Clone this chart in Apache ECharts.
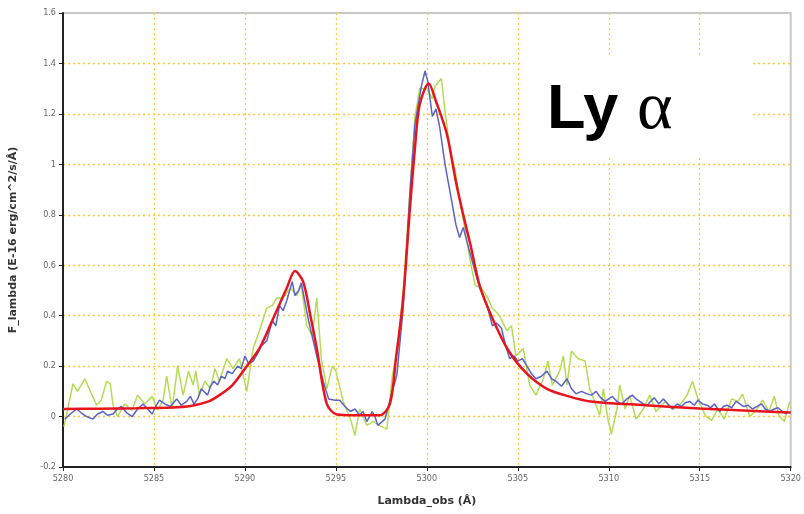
<!DOCTYPE html>
<html>
<head>
<meta charset="utf-8">
<script src="https://cdn.jsdelivr.net/npm/echarts@6/dist/echarts.min.js"></script>
<style>
  html, body { margin: 0; padding: 0; background: #fff; }
  #chart { width: 804px; height: 514px; }
</style>
</head>
<body>
<div id="chart"></div>
<script>
// wavelength (Å), flux (E-16 erg/cm^2/s/Å)
const obsGreen = [
  [5280.05, -0.04], [5280.3, 0.045], [5280.55, 0.13], [5280.8, 0.1], [5281.2, 0.15],
  [5281.6, 0.085], [5281.85, 0.045], [5282.1, 0.065], [5282.4, 0.14], [5282.6, 0.13],
  [5282.75, 0.045], [5283, 0.0], [5283.4, 0.05], [5283.8, 0.025], [5284.1, 0.085],
  [5284.5, 0.05], [5284.9, 0.08], [5285.2, 0.025], [5285.5, 0.065], [5285.7, 0.16],
  [5286, 0.03], [5286.3, 0.2], [5286.6, 0.085], [5286.9, 0.18], [5287.15, 0.125],
  [5287.3, 0.18], [5287.5, 0.085], [5287.8, 0.14], [5288.1, 0.11], [5288.35, 0.19],
  [5288.6, 0.14], [5289, 0.23], [5289.35, 0.19], [5289.7, 0.23], [5290.1, 0.1],
  [5290.45, 0.27], [5290.8, 0.34], [5291.2, 0.43], [5291.5, 0.44], [5291.75, 0.47],
  [5292.1, 0.47], [5292.5, 0.51], [5292.85, 0.48], [5293.1, 0.52], [5293.4, 0.36],
  [5293.7, 0.32], [5293.95, 0.47], [5294.2, 0.23], [5294.5, 0.11], [5294.8, 0.2],
  [5295, 0.18], [5295.4, 0.06], [5295.8, -0.01], [5296.05, -0.075], [5296.3, 0.03],
  [5296.7, -0.035], [5297.05, -0.02], [5297.4, -0.035], [5297.8, -0.05], [5298.1, 0.16],
  [5298.4, 0.27], [5298.7, 0.5], [5299.07, 0.89], [5299.35, 1.19], [5299.6, 1.3],
  [5300, 1.3], [5300.3, 1.26], [5300.45, 1.31], [5300.8, 1.34], [5301, 1.21],
  [5301.3, 1.04], [5301.55, 0.98], [5301.8, 0.86], [5302.1, 0.74], [5302.35, 0.63],
  [5302.65, 0.52], [5303, 0.51], [5303.35, 0.47], [5303.6, 0.43], [5304, 0.4],
  [5304.4, 0.34], [5304.65, 0.36], [5304.9, 0.24], [5305.3, 0.27], [5305.65, 0.125],
  [5306, 0.085], [5306.4, 0.15], [5306.65, 0.22], [5306.9, 0.125], [5307.3, 0.18],
  [5307.5, 0.24], [5307.7, 0.125], [5307.95, 0.26], [5308.3, 0.23], [5308.7, 0.22],
  [5308.95, 0.11], [5309.3, 0.045], [5309.5, 0.005], [5309.7, 0.11], [5309.95, -0.01],
  [5310.15, -0.07], [5310.45, 0.03], [5310.6, 0.125], [5310.9, 0.03], [5311.15, 0.085],
  [5311.5, -0.01], [5311.9, 0.03], [5312.25, 0.085], [5312.6, 0.02], [5313.1, 0.06],
  [5313.5, 0.03], [5313.9, 0.045], [5314.3, 0.085], [5314.6, 0.14], [5314.9, 0.07],
  [5315.3, 0.005], [5315.65, -0.015], [5316, 0.03], [5316.35, -0.01], [5316.75, 0.07],
  [5317.1, 0.06], [5317.35, 0.09], [5317.75, 0.0], [5318.1, 0.025], [5318.45, 0.065],
  [5318.8, 0.02], [5319.1, 0.08], [5319.35, 0.005], [5319.65, -0.02], [5319.95, 0.06]
];

const obsBlue = [
  [5280.1, -0.01], [5280.4, 0.01], [5280.75, 0.03], [5281, 0.015], [5281.3, 0.0],
  [5281.65, -0.01], [5281.9, 0.01], [5282.2, 0.02], [5282.45, 0.005], [5282.75, 0.01],
  [5283, 0.03], [5283.2, 0.04], [5283.5, 0.015], [5283.8, 0.0], [5284.1, 0.03],
  [5284.4, 0.05], [5284.65, 0.03], [5284.9, 0.01], [5285.1, 0.04], [5285.3, 0.065],
  [5285.6, 0.05], [5285.9, 0.04], [5286.25, 0.07], [5286.5, 0.045], [5286.8, 0.06],
  [5287, 0.08], [5287.2, 0.05], [5287.4, 0.07], [5287.6, 0.11], [5287.95, 0.085],
  [5288.1, 0.12], [5288.3, 0.14], [5288.5, 0.125], [5288.7, 0.16], [5288.9, 0.15],
  [5289.05, 0.18], [5289.3, 0.17], [5289.6, 0.2], [5289.8, 0.19], [5290, 0.24],
  [5290.2, 0.21], [5290.45, 0.22], [5290.7, 0.25], [5290.9, 0.28], [5291.2, 0.3],
  [5291.5, 0.38], [5291.7, 0.36], [5291.9, 0.44], [5292.1, 0.42], [5292.3, 0.46],
  [5292.6, 0.535], [5292.75, 0.48], [5292.95, 0.5], [5293.1, 0.53], [5293.5, 0.38],
  [5293.95, 0.24], [5294.3, 0.14], [5294.6, 0.07], [5294.95, 0.065], [5295.2, 0.065],
  [5295.5, 0.04], [5295.8, 0.02], [5296.05, 0.03], [5296.3, 0.005], [5296.5, 0.02],
  [5296.7, -0.02], [5297, 0.02], [5297.15, 0.0], [5297.3, -0.035], [5297.7, -0.01],
  [5298.1, 0.1], [5298.35, 0.165], [5298.7, 0.43], [5299.07, 0.89], [5299.34, 1.155],
  [5299.7, 1.31], [5299.9, 1.37], [5300.05, 1.33], [5300.3, 1.19], [5300.5, 1.22],
  [5300.7, 1.15], [5301, 1.0], [5301.3, 0.88], [5301.6, 0.76], [5301.8, 0.71],
  [5302, 0.75], [5302.4, 0.64], [5302.9, 0.51], [5303.1, 0.48], [5303.35, 0.43],
  [5303.6, 0.36], [5303.85, 0.37], [5304.1, 0.35], [5304.3, 0.29], [5304.55, 0.23],
  [5304.8, 0.24], [5305, 0.22], [5305.25, 0.23], [5305.5, 0.2], [5305.75, 0.17],
  [5306, 0.15], [5306.3, 0.16], [5306.6, 0.18], [5306.85, 0.15], [5307.1, 0.14],
  [5307.4, 0.12], [5307.7, 0.15], [5307.95, 0.11], [5308.2, 0.09], [5308.5, 0.1],
  [5308.8, 0.09], [5309.05, 0.085], [5309.3, 0.1], [5309.55, 0.075], [5309.8, 0.06],
  [5310, 0.07], [5310.2, 0.08], [5310.45, 0.06], [5310.7, 0.05], [5311, 0.07],
  [5311.3, 0.085], [5311.5, 0.07], [5311.7, 0.06], [5311.9, 0.05], [5312.1, 0.045],
  [5312.3, 0.06], [5312.5, 0.075], [5312.75, 0.05], [5313, 0.07], [5313.25, 0.05],
  [5313.5, 0.03], [5313.75, 0.05], [5314, 0.04], [5314.2, 0.055], [5314.45, 0.06],
  [5314.7, 0.045], [5314.9, 0.065], [5315.15, 0.05], [5315.4, 0.045], [5315.6, 0.035],
  [5315.8, 0.05], [5316.1, 0.02], [5316.3, 0.04], [5316.5, 0.045], [5316.75, 0.035],
  [5317, 0.06], [5317.2, 0.05], [5317.4, 0.04], [5317.65, 0.045], [5317.9, 0.03],
  [5318.15, 0.04], [5318.4, 0.05], [5318.6, 0.03], [5318.85, 0.02], [5319.1, 0.03],
  [5319.3, 0.035], [5319.55, 0.02], [5319.8, 0.01]
];

const fitRed = [
  [5280, 0.03], [5282, 0.031], [5284, 0.033], [5286, 0.036], [5287, 0.042],
  [5288, 0.06], [5288.6, 0.085], [5289.3, 0.124], [5290, 0.19], [5290.8, 0.27],
  [5291.5, 0.38], [5292.3, 0.51], [5292.75, 0.577], [5293.2, 0.535], [5293.6, 0.4],
  [5293.95, 0.27], [5294.5, 0.05], [5295.05, 0.008], [5296, 0.005], [5297.4, 0.005],
  [5297.97, 0.05], [5298.3, 0.23], [5298.7, 0.47], [5299.07, 0.825], [5299.34, 1.06],
  [5299.6, 1.235], [5300.1, 1.32], [5300.5, 1.25], [5301.1, 1.12], [5301.6, 0.93],
  [5302, 0.8], [5302.4, 0.68], [5302.9, 0.52], [5303.6, 0.39], [5304.5, 0.26],
  [5305.5, 0.17], [5306.6, 0.11], [5307.8, 0.08], [5309, 0.06], [5312, 0.045],
  [5315, 0.032], [5318, 0.022], [5320, 0.016]
];

const chart = echarts.init(document.getElementById("chart"));

const gridLine = {
  show: true,
  showMinLine: false,
  showMaxLine: false,
  lineStyle: { color: "#fbcb3c", width: 1.3, type: [2, 3] },
};

chart.setOption({
  animation: false,
  grid: {
    left: 63,
    right: 13,
    top: 13,
    bottom: 47,
    show: true,
    borderColor: "#c8c8c8",
    borderWidth: 2,
  },
  xAxis: {
    type: "value",
    min: 5280,
    max: 5320,
    interval: 5,
    name: "Lambda_obs (Å)",
    nameLocation: "middle",
    nameGap: 29,
    nameTextStyle: { color: "#333", fontSize: 11, fontWeight: "bold", fontFamily: "DejaVu Sans" },
    axisLine: { onZero: false, lineStyle: { color: "#222", width: 2 } },
    axisTick: { show: true, length: 4, lineStyle: { color: "#222" } },
    axisLabel: {
      color: "#666",
      fontSize: 9,
      margin: 7,
      fontFamily: "DejaVu Sans Condensed",
      formatter: (v) => String(v),
    },
    splitLine: gridLine,
  },
  yAxis: {
    type: "value",
    min: -0.2,
    max: 1.6,
    interval: 0.2,
    name: "F_lambda (E-16 erg/cm^2/s/Å)",
    nameLocation: "middle",
    nameGap: 44,
    nameTextStyle: { color: "#333", fontSize: 11, fontWeight: "bold", fontFamily: "DejaVu Sans" },
    axisLine: { show: true, onZero: false, lineStyle: { color: "#222", width: 2 } },
    axisTick: { show: true, length: 4, lineStyle: { color: "#222" } },
    axisLabel: {
      color: "#666",
      fontSize: 9,
      margin: 7,
      fontFamily: "DejaVu Sans Condensed",
      formatter: (v) => String(Math.round(v * 10) / 10),
    },
    splitLine: gridLine,
  },
  series: [
    {
      name: "obs2",
      type: "line",
      data: obsGreen,
      showSymbol: false,
      lineStyle: { color: "#b4dc52", width: 1.5 },
      z: 2,
    },
    {
      name: "obs1",
      type: "line",
      data: obsBlue,
      showSymbol: false,
      lineStyle: { color: "#5b63c6", width: 1.5 },
      z: 3,
    },
    {
      name: "fit",
      type: "line",
      data: fitRed,
      showSymbol: false,
      smooth: 0.3,
      lineStyle: { color: "#e8141c", width: 2.5 },
      z: 4,
    },
  ],
  graphic: [
    {
      type: "rect",
      shape: { x: 523, y: 58, width: 229, height: 97 },
      style: { fill: "#fff" },
      z: 100,
    },
    {
      type: "text",
      x: 547,
      y: 111,
      style: {
        text: "Ly",
        font: "bold 63px 'Liberation Sans', Arial, sans-serif",
        fill: "#000",
        align: "left",
        verticalAlign: "middle",
      },
      z: 101,
    },
    {
      type: "text",
      x: 637,
      y: 110,
      style: {
        text: "α",
        font: "68px 'Liberation Serif', 'Times New Roman', serif",
        fill: "#000",
        align: "left",
        verticalAlign: "middle",
      },
      z: 101,
    },
  ],
});

window.addEventListener("resize", chart.resize);
</script>
</body>
</html>
